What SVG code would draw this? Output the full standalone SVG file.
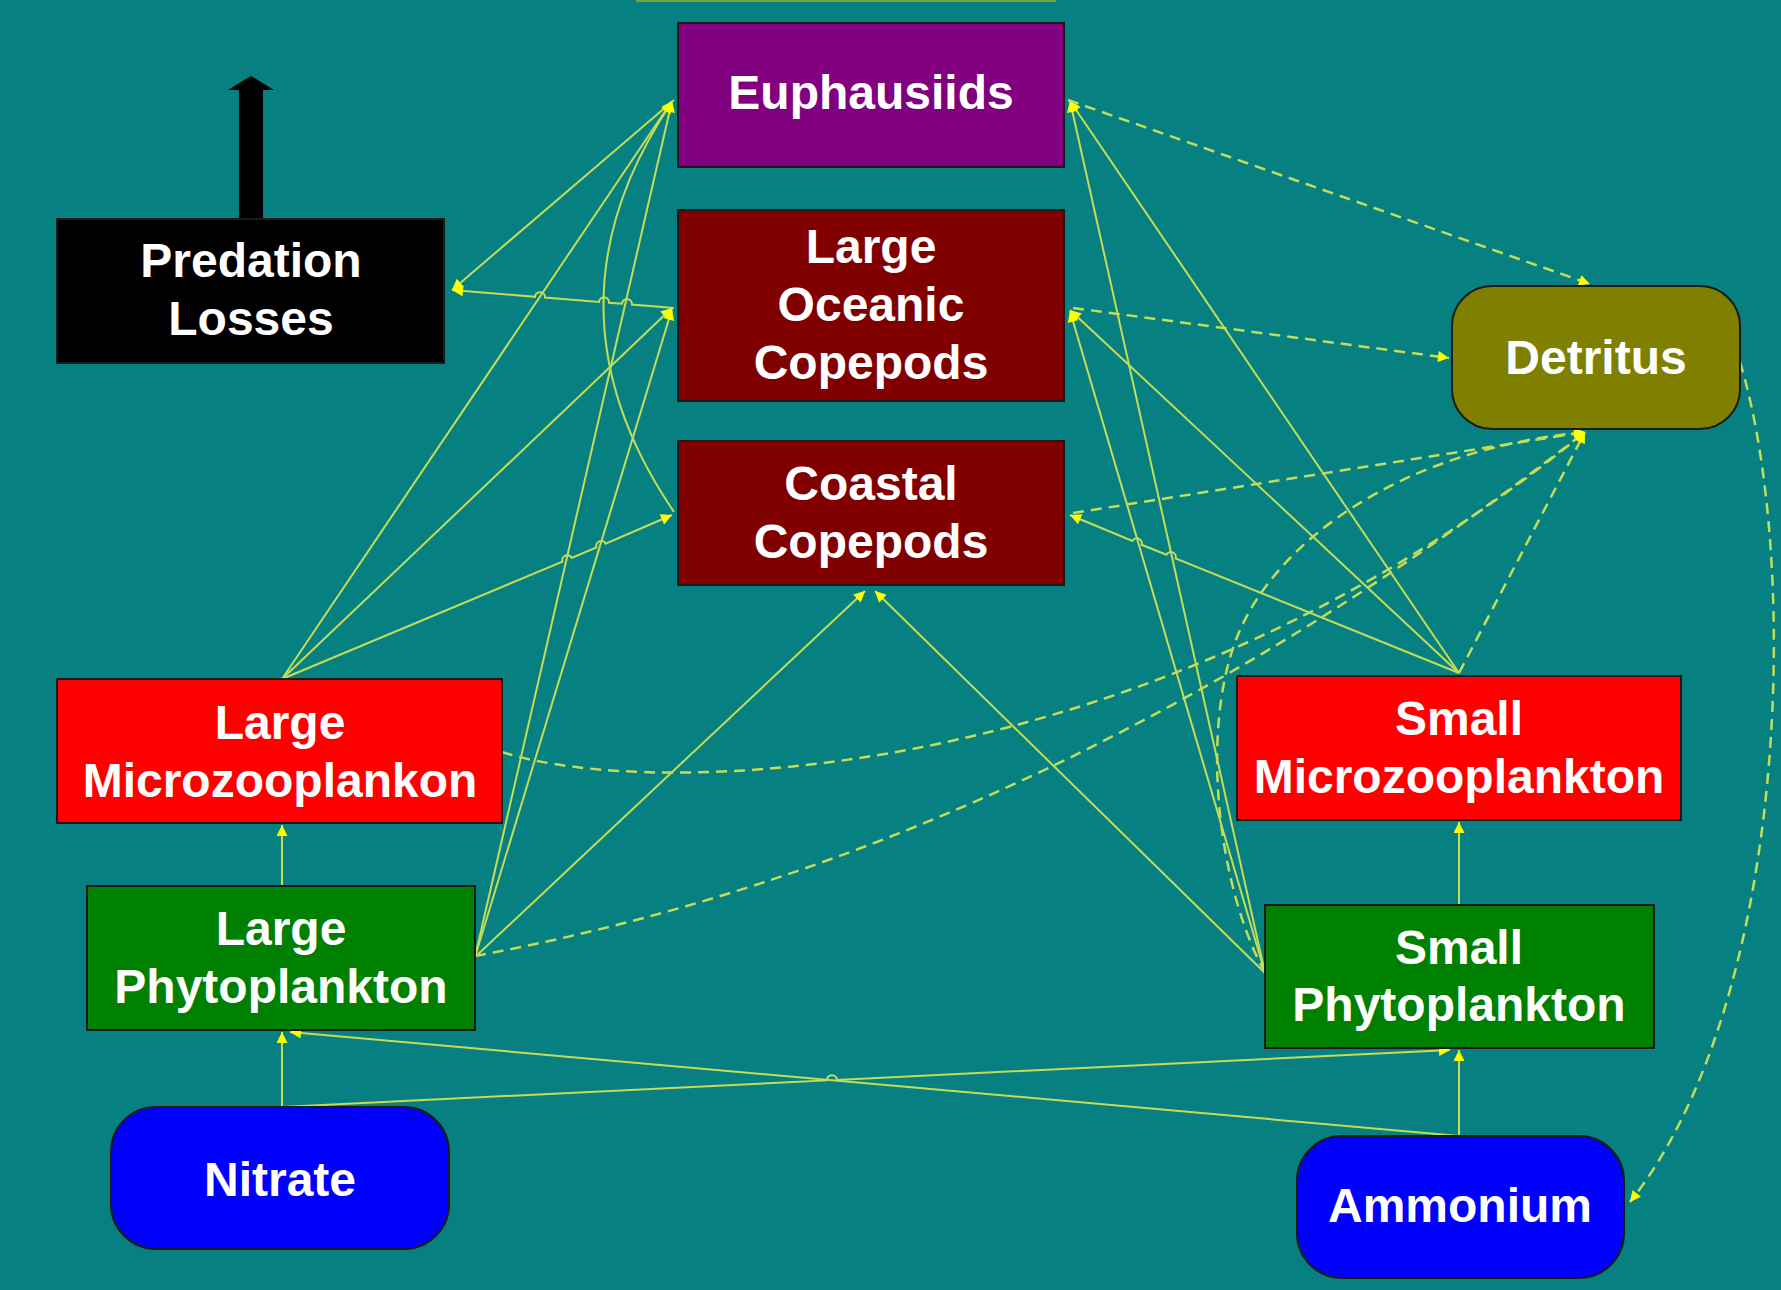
<svg xmlns="http://www.w3.org/2000/svg" width="1781" height="1290" viewBox="0 0 1781 1290">
<style>
.box{stroke:#1a1a1a;stroke-width:2}
.t{font-family:"Liberation Sans",Arial,sans-serif;font-weight:bold;font-size:48px;fill:#ffffff;text-anchor:middle}
.c{fill:none;stroke:#c4dc58;stroke-width:2}
.d{fill:none;stroke:#c4dc58;stroke-width:2.5;stroke-dasharray:11 7}
</style>
<defs>
<marker id="ah" viewBox="0 0 10 10" refX="10" refY="5" markerWidth="13" markerHeight="11" markerUnits="userSpaceOnUse" orient="auto">
<path d="M0,0 L10,5 L0,10 z" fill="#ffff00"/>
</marker>
</defs>
<rect width="1781" height="1290" fill="#068080"/>
<rect x="636" y="0" width="420" height="2" fill="#7aa040"/>

<g id="connectors">
<path class="c" marker-end="url(#ah)" d="M674,100 L452,290"/>
<path class="c" marker-end="url(#ah)" d="M674,308 L632,304.6 A5,5 0 0 0 622,303.8 L609,302.8 A5,5 0 0 0 599,302 L545,297.6 A5,5 0 0 0 535,296.8 L452,290"/>
<path class="c" marker-end="url(#ah)" d="M282,679 L672,101"/>
<path class="c" marker-end="url(#ah)" d="M282,679 L672,308"/>
<path class="c" marker-end="url(#ah)" d="M282,679 L562.4,561.7 A5,5 0 0 1 571.6,557.9 L596.4,547.4 A5,5 0 0 1 605.6,543.6 L672,515"/>
<path class="c" marker-end="url(#ah)" d="M475,957 L672,101"/>
<path class="c" marker-end="url(#ah)" d="M475,957 L672,309"/>
<path class="c" marker-end="url(#ah)" d="M475,957 L865,591"/>
<path class="c" marker-end="url(#ah)" d="M674,512 Q534,306 672,102"/>
<path class="c" marker-end="url(#ah)" d="M1459,673 L1070,101"/>
<path class="c" marker-end="url(#ah)" d="M1459,673 L1070,310"/>
<path class="c" marker-end="url(#ah)" d="M1459,673 L1175.6,558.5 A5,5 0 0 0 1166.4,554.7 L1141.6,544.8 A5,5 0 0 0 1132.4,541 L1070,515"/>
<path class="c" marker-end="url(#ah)" d="M1265,973 L1070,101"/>
<path class="c" marker-end="url(#ah)" d="M1265,973 L1070,311"/>
<path class="c" marker-end="url(#ah)" d="M1265,973 L875,591"/>
<path class="c" marker-end="url(#ah)" d="M282,1107 L282,1032"/>
<path class="c" marker-end="url(#ah)" d="M282,886 L282,825"/>
<path class="c" marker-end="url(#ah)" d="M1459,905 L1459,822"/>
<path class="c" marker-end="url(#ah)" d="M1459,1136 L1459,1050"/>
<path class="c" marker-end="url(#ah)" d="M282,1107 L827,1080.4 A5,5 0 0 1 837,1079.9 L1450,1050"/>
<path class="c" marker-end="url(#ah)" d="M1459,1136 L290,1032"/>
<path class="d" marker-end="url(#ah)" d="M1068,100 L1590,284"/>
<path class="d" marker-end="url(#ah)" d="M1073,308 L1449,358"/>
<path class="d" marker-end="url(#ah)" d="M1073,513 L1585,432"/>
<path class="d" marker-end="url(#ah)" d="M502,752 C650,800 1150,790 1585,432"/>
<path class="d" marker-end="url(#ah)" d="M475,956 Q1050,850 1585,432"/>
<path class="d" marker-end="url(#ah)" d="M1459,673 L1585,432"/>
<path class="d" marker-end="url(#ah)" d="M1265,973 C1215,880 1200,720 1240,630 S1400,450 1585,432"/>
<path class="d" marker-end="url(#ah)" d="M1740,362 C1800,560 1790,1000 1630,1202"/>
</g>

<g id="predation-arrow">
<path d="M239,219 L239,90 L228,90 L251,76 L274,90 L263,90 L263,219 z" fill="#000000"/>
</g>

<g id="euphausiids">
<rect class="box" x="678" y="23" width="386" height="144" fill="#800080"/>
<text class="t" x="871" y="109">Euphausiids</text>
</g>
<g id="large-oceanic-copepods">
<rect class="box" x="678" y="210" width="386" height="191" fill="#800000"/>
<text class="t" x="871" y="263">Large</text>
<text class="t" x="871" y="321">Oceanic</text>
<text class="t" x="871" y="379">Copepods</text>
</g>
<g id="coastal-copepods">
<rect class="box" x="678" y="441" width="386" height="144" fill="#800000"/>
<text class="t" x="871" y="500">Coastal</text>
<text class="t" x="871" y="558">Copepods</text>
</g>
<g id="predation-losses">
<rect class="box" x="57" y="219" width="387" height="144" fill="#000000"/>
<text class="t" x="251" y="277">Predation</text>
<text class="t" x="251" y="335">Losses</text>
</g>
<g id="detritus">
<rect class="box" x="1452" y="286" width="288" height="143" rx="40" ry="40" fill="#808000"/>
<text class="t" x="1596" y="374">Detritus</text>
</g>
<g id="large-microzooplankon">
<rect class="box" x="57" y="679" width="445" height="144" fill="#ff0000"/>
<text class="t" x="280" y="739">Large</text>
<text class="t" x="280" y="797">Microzooplankon</text>
</g>
<g id="large-phytoplankton">
<rect class="box" x="87" y="886" width="388" height="144" fill="#008000"/>
<text class="t" x="281" y="945">Large</text>
<text class="t" x="281" y="1003">Phytoplankton</text>
</g>
<g id="nitrate">
<rect class="box" x="111" y="1107" width="338" height="142" rx="45" ry="45" fill="#0000ff"/>
<text class="t" x="280" y="1196">Nitrate</text>
</g>
<g id="small-microzooplankton">
<rect class="box" x="1237" y="676" width="444" height="144" fill="#ff0000"/>
<text class="t" x="1459" y="735">Small</text>
<text class="t" x="1459" y="793">Microzooplankton</text>
</g>
<g id="small-phytoplankton">
<rect class="box" x="1265" y="905" width="389" height="143" fill="#008000"/>
<text class="t" x="1459" y="964">Small</text>
<text class="t" x="1459" y="1021">Phytoplankton</text>
</g>
<g id="ammonium">
<rect class="box" x="1297" y="1136" width="327" height="142" rx="45" ry="45" fill="#0000ff"/>
<text class="t" x="1460" y="1222">Ammonium</text>
</g>
</svg>
